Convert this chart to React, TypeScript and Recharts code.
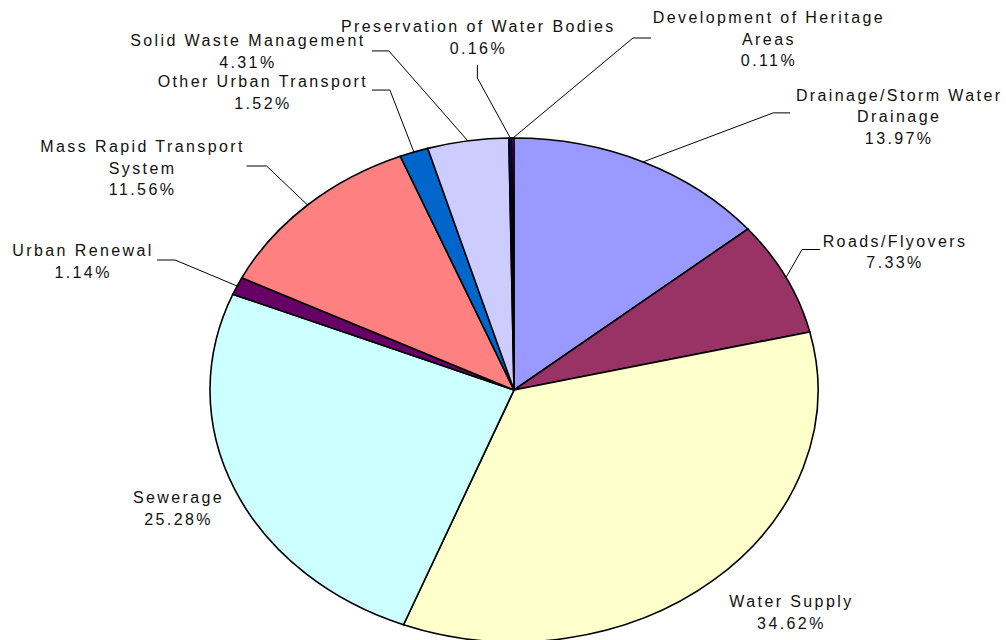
import { Cell, Pie, PieChart } from "recharts";

/* ===== Data ===== */
const CATEGORIES = [
  "Drainage/Storm Water Drainage",
  "Roads/Flyovers",
  "Water Supply",
  "Sewerage",
  "Urban Renewal",
  "Mass Rapid Transport System",
  "Other Urban Transport",
  "Solid Waste Management",
  "Preservation of Water Bodies",
  "Development of Heritage Areas",
];
const SHARES = [13.97, 7.33, 34.62, 25.28, 1.14, 11.56, 1.52, 4.31, 0.16, 0.11];
const LABEL_LINES = [
  ["Drainage/Storm Water", "Drainage"],
  ["Roads/Flyovers"],
  ["Water Supply"],
  ["Sewerage"],
  ["Urban Renewal"],
  ["Mass Rapid Transport", "System"],
  ["Other Urban Transport"],
  ["Solid Waste Management"],
  ["Preservation of Water Bodies"],
  ["Development of Heritage", "Areas"],
];
const COLORS = [
  "#9999FF",
  "#993366",
  "#FFFFCC",
  "#CCFFFF",
  "#660066",
  "#FF8080",
  "#0066CC",
  "#CCCCFF",
  "#000080",
  "#FF00FF",
];

/* ===== Label placement (offsets from the slice's outer edge) ===== */
type LabelPos = { tx: number; ty: number; leader: number[][] | null };
const LABEL_POS: LabelPos[] = [
  { tx: 255, ty: -61, leader: [[130, -49], [147, -49]] },
  { tx: 108, ty: -31, leader: [[16, -28], [34, -28]] },
  { tx: 77, ty: 27, leader: null },
  { tx: -57, ty: 14, leader: null },
  { tx: -155, ty: -30, leader: [[-62, -26], [-80, -26]] },
  { tx: -166, ty: -53, leader: [[-41, -39], [-61, -39]] },
  { tx: -152, ty: -65, leader: [[-24, -62], [-42, -62]] },
  { tx: -221, ty: -95, leader: [[-79, -90], [-96, -90]] },
  { tx: -33, ty: -106, leader: [[-33, -60], [-33, -73]] },
  { tx: 255, ty: -115, leader: [[120, -100], [138, -100]] },
];

const chartData = CATEGORIES.map((name, i) => ({ name, value: SHARES[i] }));

const W = 1006;
const H = 640;
const CX = 514;
const CY = 390;
const R = 304;
const SQUASH = 252 / 304; // pie is drawn as an ellipse
const LINE_H = 21.6;
const RAD = Math.PI / 180;

const renderLabel = (props: any) => {
  const { cx, cy, midAngle, outerRadius, index, value } = props;
  const ex = cx + outerRadius * Math.cos(midAngle * RAD);
  const ey = cy - outerRadius * SQUASH * Math.sin(midAngle * RAD);
  const pos = LABEL_POS[index];
  const lines = [...LABEL_LINES[index], `${Number(value).toFixed(2)}%`];
  return (
    <g key={`lbl-${index}`}>
      {pos.leader && (
        <polyline
          points={[[0, 0], ...pos.leader].map(([dx, dy]) => `${ex + dx},${ey + dy}`).join(" ")}
          fill="none"
          stroke="#000"
          strokeWidth={1}
        />
      )}
      <text
        x={ex + pos.tx + 1}
        y={ey + pos.ty}
        textAnchor="middle"
        fill="#111"
        fontSize={16}
        fontFamily="'Liberation Sans', Arial, sans-serif"
        letterSpacing={2.4}
      >
        {lines.map((l, j) => (
          <tspan key={j} x={ex + pos.tx + 1} y={ey + pos.ty + j * LINE_H}>
            {l}
          </tspan>
        ))}
      </text>
    </g>
  );
};

export default function App() {
  return (
    <div style={{ position: "absolute", left: 0, top: 0, width: W, height: H, background: "#fff" }}>
      <style>{`
        .recharts-sector {
          transform-box: view-box;
          transform-origin: ${CX}px ${CY}px;
          transform: scaleY(${SQUASH});
          vector-effect: non-scaling-stroke;
        }
      `}</style>
      <PieChart width={W} height={H} margin={{ top: 0, right: 0, bottom: 0, left: 0 }}>
        <Pie
          data={chartData}
          dataKey="value"
          nameKey="name"
          cx={CX}
          cy={CY}
          outerRadius={R}
          startAngle={90}
          endAngle={-270}
          stroke="#000"
          strokeWidth={1.6}
          label={renderLabel}
          labelLine={false}
          isAnimationActive={false}
        >
          {chartData.map((d, i) => (
            <Cell key={d.name} fill={COLORS[i]} />
          ))}
        </Pie>
      </PieChart>
    </div>
  );
}
